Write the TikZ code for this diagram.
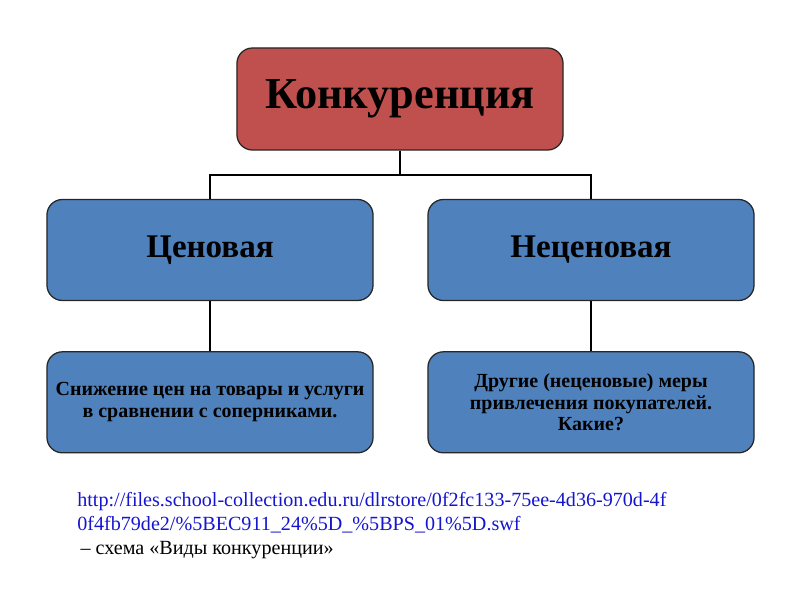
\documentclass[tikz,border=0pt]{standalone}
\usepackage{fontspec}
\setmainfont{Liberation Serif}
\usetikzlibrary{positioning}

\definecolor{boxred}{HTML}{C0504D}
\definecolor{boxblue}{HTML}{4F81BD}
\definecolor{linkblue}{HTML}{1515D0}

\begin{document}
\begin{tikzpicture}[x=0.025cm,y=-0.025cm,
	topbox/.style={rectangle,rounded corners=11pt,draw=black!85,line width=0.9pt,fill=boxred,minimum width=8.15cm,minimum height=2.55cm,align=center,font=\fontsize{31.5}{36}\selectfont\bfseries},
	kindbox/.style={rectangle,rounded corners=11pt,draw=black!85,line width=0.9pt,fill=boxblue,minimum width=8.15cm,minimum height=2.525cm,align=center,font=\fontsize{23.5}{28}\selectfont\bfseries},
	notebox/.style={rectangle,rounded corners=11pt,draw=black!85,line width=0.9pt,fill=boxblue,minimum width=8.15cm,minimum height=2.525cm,align=center,font=\fontsize{14.2}{15.5}\selectfont\bfseries},
	link/.style={line width=1.1pt,black},
	source/.style={anchor=north west,align=left,inner sep=0pt,font=\fontsize{14.3}{17}\selectfont}
	]
\useasboundingbox (0,0) rectangle (800,600);

\node [topbox] (konk) at (400,99) {Конкуренция};

\node [kindbox] (cen)   at (210,250) {Ценовая};
\node [kindbox] (necen) at (591,250) {Неценовая};

\node [notebox] (snizh) [below = 1.25cm of cen]   {Снижение цен на товары и услуги\\в сравнении с соперниками.};
\node [notebox] (mery)  [below = 1.25cm of necen] {Другие (неценовые) меры\\привлечения покупателей.\\Какие?};

\coordinate (j) at (400,175);

\draw [link] (konk.south) -- (j) -| (cen.north);
\draw [link] (j) -| (necen.north);
\draw [link] (cen) -- (snizh);
\draw [link] (necen) -- (mery);

% source of the scheme
\node [source,text=linkblue] (url) at (77,492) {http://files.school-collection.edu.ru/dlrstore/0f2fc133-75ee-4d36-970d-4f\\0f4fb79de2/\%5BEC911\_24\%5D\_\%5BPS\_01\%5D.swf};
\node [source] (cap) [below = 0.2cm of url.south west, anchor=north west] {\,– схема «Виды конкуренции»};
\end{tikzpicture}
\end{document}
